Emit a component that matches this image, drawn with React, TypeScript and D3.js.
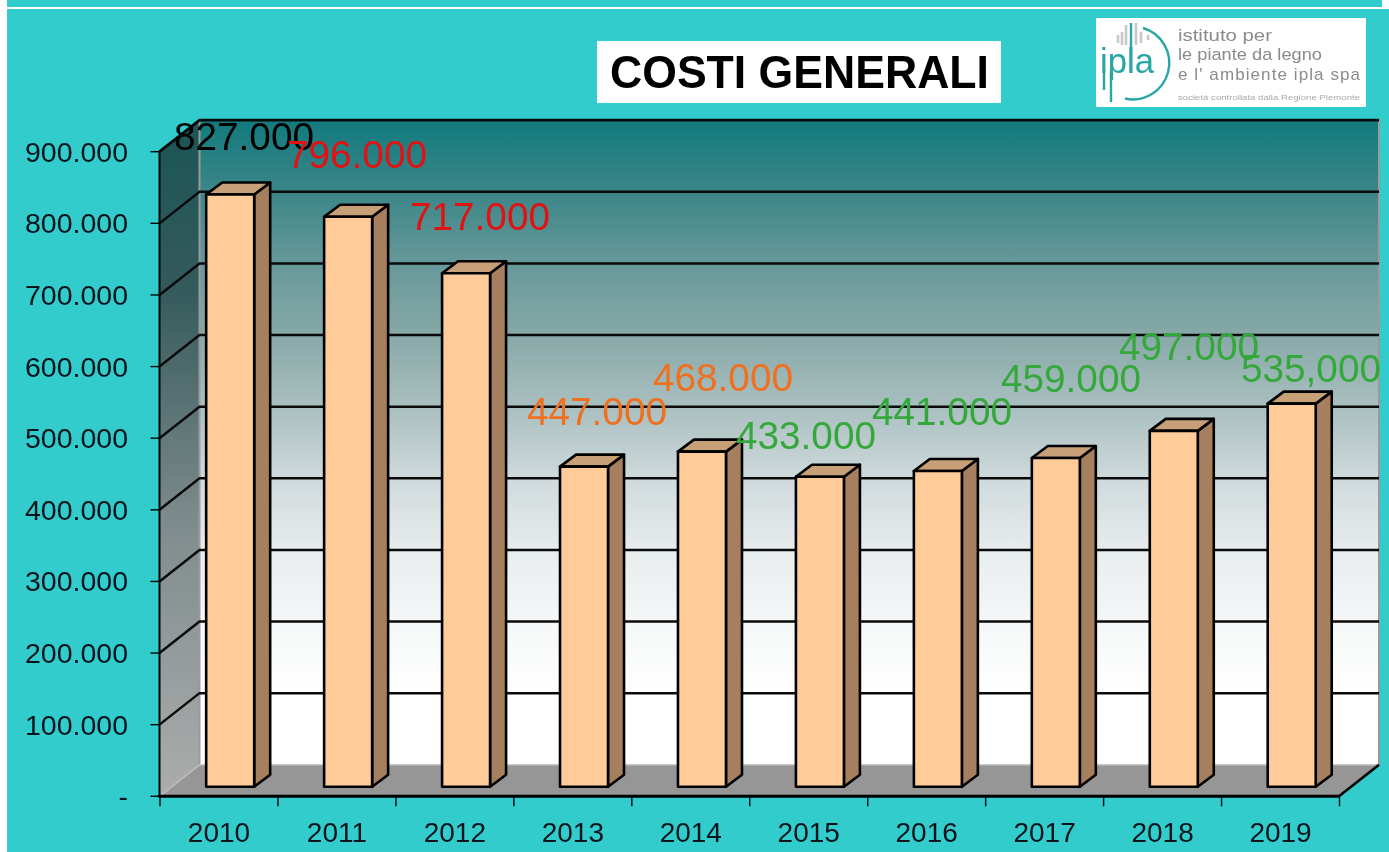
import React from "react";
import * as d3 from "d3";

const years = ["2010","2011","2012","2013","2014","2015","2016","2017","2018","2019"];
const costs = [827000,796000,717000,447000,468000,433000,441000,459000,497000,535000];
const valueTexts = ["827.000","796.000","717.000","447.000","468.000","433.000","441.000","459.000","497.000","535,000"];
const yTicks = [0,100000,200000,300000,400000,500000,600000,700000,800000,900000];
const yTickLabels = ["-","100.000","200.000","300.000","400.000","500.000","600.000","700.000","800.000","900.000"];

// manual layout of the data labels (they were hand-placed in the source slide)
const labelCentreX = [244,357,480,597,723,806,942,1071,1189,1311];
const labelBaseline = [150,168,230,425,391,449,425,392,360,382];
const labelColours = ["#000000","#e21212","#e21212","#f0701f","#f0701f","#35a83c","#35a83c","#35a83c","#35a83c","#35a83c"];

const wallStops: [number,string][] = [
  [0,"#127a7d"],[0.11,"#3b8688"],[0.22,"#66989a"],[0.33,"#86a8a6"],[0.45,"#abc0c1"],
  [0.56,"#d0dadc"],[0.67,"#e8edee"],[0.78,"#f5f7f8"],[0.89,"#ffffff"],[1,"#ffffff"],
];

const W = 1389, H = 852;
const x0 = 159.5, x1 = 1339, dx = 40, dy = 31.5;
const FONT = "'Liberation Sans', Arial, sans-serif";

export default function App() {
  const y = d3.scaleLinear().domain([0,900000]).range([796.3,151.7]);
  const xBand = d3.scaleBand<string>().domain(years).range([x0,x1]);
  const bw = 48, barDx = 12, barDy = 9.5, sideDx = 16, sideDy = 12;
  const poly = (p: [number,number][]) => p.map(q=>q.join(",")).join(" ");
  return (
    <svg width={W} height={H} style={{position:"fixed",left:0,top:0,display:"block",filter:"blur(0.45px)"}} fontFamily={FONT}>
      <defs>
        <linearGradient id="wall" x1="0" y1="0" x2="0" y2="1">
          {wallStops.map(([o,c])=><stop key={o} offset={o} stopColor={c}/>)}
        </linearGradient>
        <linearGradient id="side" x1="0" y1="0" x2="0" y2="1">
          <stop offset="0" stopColor="#1a5557"/>
          <stop offset="0.25" stopColor="#355a5b"/>
          <stop offset="0.6" stopColor="#7f8c8d"/>
          <stop offset="1" stopColor="#acacac"/>
        </linearGradient>
      </defs>
      <rect width={W} height={H} fill="#ffffff"/>
      <rect x={7} y={0} width={1375} height={7} fill="#33cccc"/>
      <rect x={7} y={9} width={W-7} height={H-9} fill="#33cccc"/>

      {/* title */}
      <rect x={597} y={41} width={404} height={62} fill="#ffffff"/>
      <text x={610} y={88} fontWeight="bold" fontSize={46} textLength={379} lengthAdjust="spacingAndGlyphs" fill="#000">COSTI GENERALI</text>

      {/* logo */}
      <rect x={1096} y={18} width={270} height={89} fill="#ffffff"/>
      <g stroke="#c8c8c8" strokeWidth={2.6}>
        <line x1={1118} y1={35} x2={1118} y2={43}/>
        <line x1={1122} y1={32} x2={1122} y2={45}/>
        <line x1={1126} y1={25} x2={1126} y2={45}/>
        <line x1={1136} y1={23} x2={1136} y2={45}/>
        <line x1={1141} y1={32} x2={1141} y2={43}/>
        <line x1={1148} y1={35} x2={1148} y2={40}/>
      </g>
      <path d="M1131,23 V73 M1104,70 V90 M1111,70 V102 M1143,28 A36.4,36.4 0 0 1 1125,98.5" fill="none" stroke="#2aa5a5" strokeWidth={2.4}/>
      <text x={1100} y={73} fontSize={35} textLength={54} lengthAdjust="spacingAndGlyphs" fill="#2aa5a5">ipla</text>
      <g fill="#8b8b8b" fontSize={17}>
        <text x={1178} y={41} textLength={94} lengthAdjust="spacingAndGlyphs">istituto per</text>
        <text x={1178} y={60} textLength={144} lengthAdjust="spacingAndGlyphs">le piante da legno</text>
        <text x={1178} y={80} textLength={182}>e  l' ambiente  ipla  spa</text>
        <text x={1178} y={100} fontSize={7.5} fill="#a8a8a8" textLength={182} lengthAdjust="spacingAndGlyphs">società controllata dalla Regione Piemonte</text>
      </g>

      {/* walls */}
      <polygon points={poly([[x0+dx,y(900000)-dy],[x1+dx,y(900000)-dy],[x1+dx,y(0)-dy],[x0+dx,y(0)-dy]])} fill="url(#wall)"/>
      <polygon points={poly([[x0,y(900000)],[x0+dx,y(900000)-dy],[x0+dx,y(0)-dy],[x0,y(0)]])} fill="url(#side)"/>
      <line x1={x0+dx} y1={y(900000)-dy} x2={x0+dx} y2={y(0)-dy} stroke="#9a9a9a" strokeWidth={2}/>
      <line x1={x1+dx} y1={y(900000)-dy} x2={x1+dx} y2={y(0)-dy} stroke="#9a9a9a" strokeWidth={2}/>
      <line x1={x0} y1={y(900000)} x2={x0+dx} y2={y(900000)-dy} stroke="#8a9a9a" strokeWidth={1.5}/>
      <polygon points={poly([[x0,y(0)],[x0+dx,y(0)-dy],[x1+dx,y(0)-dy],[x1,y(0)]])} fill="#969696"/>
      <line x1={x0} y1={y(0)} x2={x0+dx} y2={y(0)-dy} stroke="#bdbdbd" strokeWidth={1.5}/>
      <line x1={x0+dx} y1={y(0)-dy} x2={x1+dx} y2={y(0)-dy} stroke="#c8c8c8" strokeWidth={1.5}/>

      {/* gridlines */}
      {yTicks.slice(1).map(t=>(
        <polyline key={t} points={poly([[x0,y(t)],[x0+dx,y(t)-dy],[x1+dx,y(t)-dy]])} fill="none" stroke="#0a0a0a" strokeWidth={t===900000?2.8:2.4}/>
      ))}

      {/* axes */}
      <line x1={x0} y1={y(900000)} x2={x0} y2={y(0)+1} stroke="#000" strokeWidth={2}/>
      <line x1={x0-1} y1={y(0)} x2={x1} y2={y(0)} stroke="#000" strokeWidth={3}/>
      <line x1={x1} y1={y(0)} x2={x1+dx} y2={y(0)-dy} stroke="#000" strokeWidth={2.6}/>
      {yTicks.map((t,i)=>(
        <g key={t}>
          <line x1={x0-9} y1={y(t)} x2={x0} y2={y(t)} stroke="#000" strokeWidth={1.4}/>
          <text x={128} y={y(t)+10} textAnchor="end" fontSize={28.5} fill="#08141c">{yTickLabels[i]}</text>
        </g>
      ))}
      {[...years.map(c=>xBand(c)!),x1].map(v=>(
        <line key={v} x1={v+0.5} y1={y(0)} x2={v+0.5} y2={y(0)+10} stroke="#000" strokeWidth={1.4}/>
      ))}
      {years.map(c=>(
        <text key={c} x={xBand(c)!+xBand.bandwidth()/2+0.5} y={842} textAnchor="middle" fontSize={28} fill="#08141c">{c}</text>
      ))}

      {/* bars */}
      {years.map((c,i)=>{
        const l = xBand(c)!+barDx+(xBand.bandwidth()-bw)/2-0.3;
        const r = l+bw;
        const t = y(costs[i])-barDy;
        const b = y(0)-barDy;
        return (
          <g key={c} stroke="#000" strokeWidth={2.6} strokeLinejoin="round">
            <polygon points={poly([[r,t],[r+sideDx,t-sideDy],[r+sideDx,b-sideDy],[r,b]])} fill="#a67f5f"/>
            <polygon points={poly([[l,t],[l+sideDx,t-sideDy],[r+sideDx,t-sideDy],[r,t]])} fill="#c8a078"/>
            <rect x={l} y={t} width={bw} height={b-t} fill="#ffcc99"/>
          </g>
        );
      })}

      {/* data labels */}
      {valueTexts.map((s,i)=>(
        <text key={years[i]} x={labelCentreX[i]-70} y={labelBaseline[i]} fontSize={39.5} textLength={140} lengthAdjust="spacingAndGlyphs" fill={labelColours[i]}>{s}</text>
      ))}
    </svg>
  );
}
